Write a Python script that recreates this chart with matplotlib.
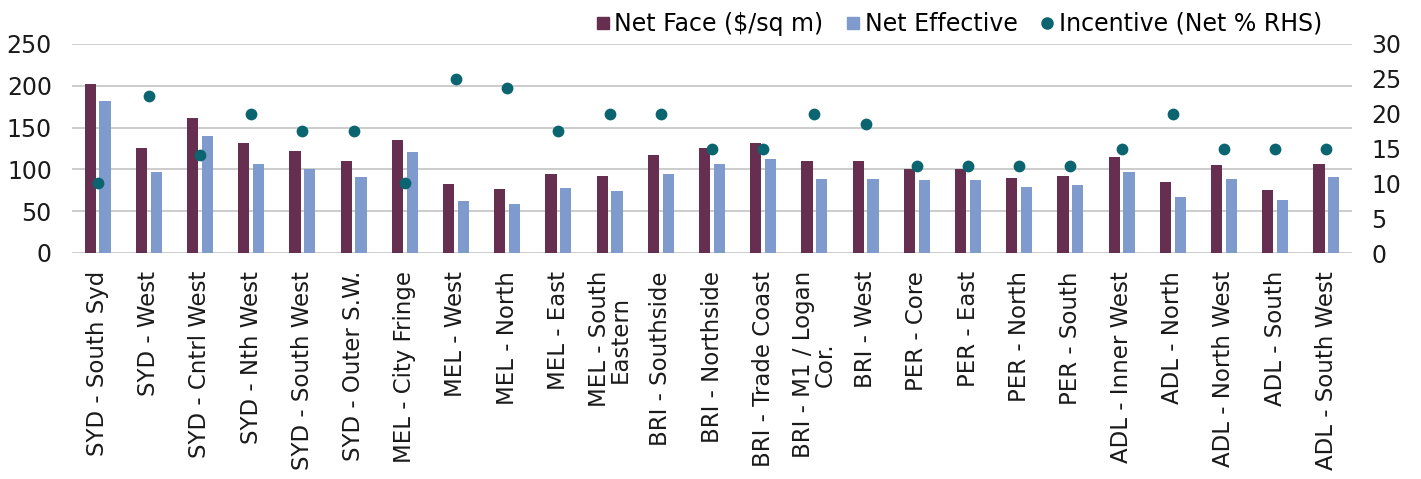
import matplotlib
matplotlib.use("Agg")
import matplotlib.pyplot as plt
from matplotlib.lines import Line2D
import numpy as np

categories = ["SYD - South Syd", "SYD - West", "SYD - Cntrl West", "SYD - Nth West",
              "SYD - South West", "SYD - Outer S.W.", "MEL - City Fringe", "MEL - West",
              "MEL - North", "MEL - East", "MEL - South\nEastern", "BRI - Southside",
              "BRI - Northside", "BRI - Trade Coast", "BRI - M1 / Logan\nCor.", "BRI - West",
              "PER - Core", "PER - East", "PER - North", "PER - South", "ADL - Inner West",
              "ADL - North", "ADL - North West", "ADL - South", "ADL - South West"]
net_face = [202, 125, 162, 132, 122, 110, 135, 83, 77, 95, 92, 117, 125, 132, 110, 110,
            100, 100, 90, 92, 115, 85, 105, 75, 107]
net_effective = [182, 97, 140, 106, 101, 91, 121, 62, 59, 78, 74, 94, 106, 112, 88, 89,
                 87, 87, 79, 81, 97, 67, 89, 63, 91]
incentive = [10, 22.5, 14, 20, 17.5, 17.5, 10, 25, 23.75, 17.5, 20, 20, 15, 15, 20, 18.5,
             12.5, 12.5, 12.5, 12.5, 15, 20, 15, 15, 15]

c_face = "#662F50"
c_ne = "#7F9ACC"
c_inc = "#0A6570"
c_grid = "#C8C8C8"

plt.rcParams['font.family'] = ['DejaVu Sans']

fig = plt.figure(figsize=(14.21, 4.79), dpi=100)
ax = fig.add_axes([72/1421, 1-253/479, 1280/1421, 209/479])
ax2 = ax.twinx()

x = np.arange(len(categories))
w = 0.22
ax.bar(x - 0.145, net_face, width=w, color=c_face, zorder=3)
ax.bar(x + 0.145, net_effective, width=w, color=c_ne, zorder=3)
ax2.scatter(x, incentive, s=72, color=c_inc, zorder=4, linewidths=0)

ax.set_xlim(-0.5, len(categories) - 0.5)
ax.set_ylim(0, 250)
ax2.set_ylim(0, 30)
ax.set_yticks(range(0, 251, 50))
ax2.set_yticks(range(0, 31, 5))
ax.yaxis.grid(True, color=c_grid, linewidth=1.3, zorder=0)
ax.set_axisbelow(True)
for a in (ax, ax2):
    for s in a.spines.values():
        s.set_visible(False)
    a.tick_params(length=0, labelsize=17, colors="#1a1a1a")
ax.tick_params(axis='y', pad=14.5)
ax2.tick_params(axis='y', pad=14)
ax.set_xticks(x)
ax.set_xticklabels(categories, rotation=90, fontsize=16.5, ha='center', va='top',
                   multialignment='center', linespacing=0.9)
ax.tick_params(axis='x', pad=13)

handles = [Line2D([], [], marker='s', linestyle='none', color=c_face, markersize=8),
           Line2D([], [], marker='s', linestyle='none', color=c_ne, markersize=8),
           Line2D([], [], marker='o', linestyle='none', color=c_inc, markersize=8)]
labels = ["Net Face ($/sq m)", "Net Effective", "Incentive (Net % RHS)"]
fig.legend(handles, labels, loc='upper right', bbox_to_anchor=(1334/1421, 1.0), ncol=3,
           frameon=False, fontsize=17, handletextpad=0.0, columnspacing=0.75,
           handlelength=1.0, borderaxespad=0.1)

fig.savefig("out.png", dpi=100)
